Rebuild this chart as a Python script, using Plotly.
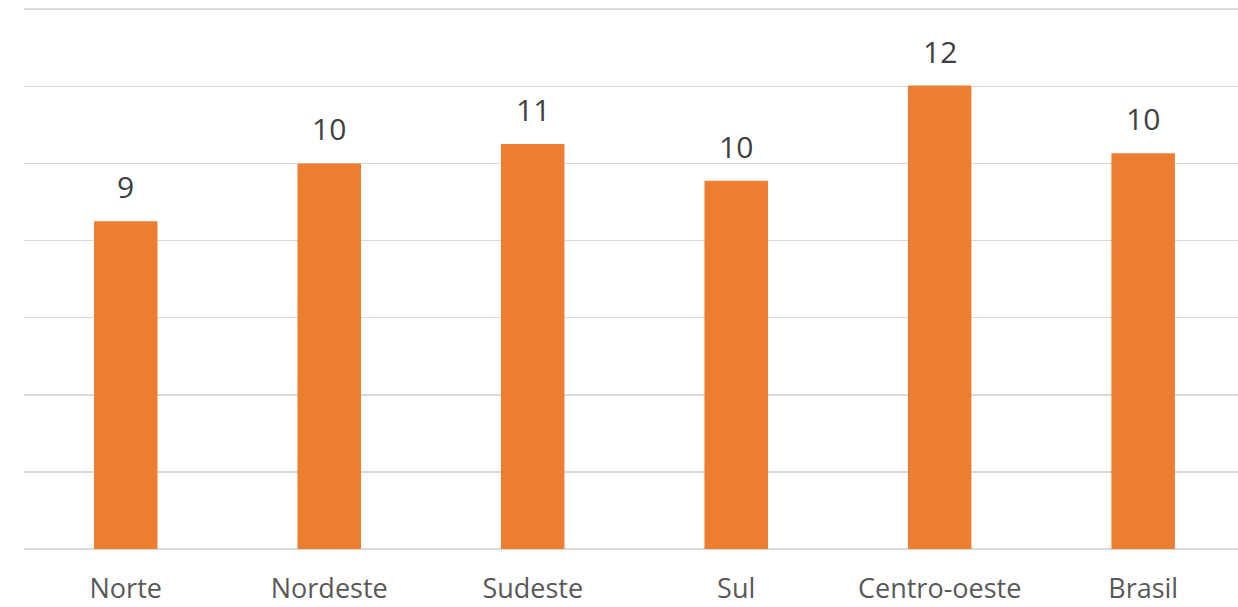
import plotly.graph_objects as go

categories = ["Norte", "Nordeste", "Sudeste", "Sul", "Centro-oeste", "Brasil"]
values = [8.5, 10.0, 10.5, 9.55, 12.02, 10.26]
labels = ["9", "10", "11", "10", "12", "10"]

fig = go.Figure()
fig.add_trace(go.Bar(
    x=categories, y=values,
    marker=dict(color="#ED7D31", line=dict(width=0)),
    hoverinfo="skip",
))

for c, v, t in zip(categories, values, labels):
    fig.add_annotation(
        x=c, y=v, text=t, showarrow=False, yanchor="bottom", yshift=12,
        font=dict(family="Open Sans", size=30, color="#404040"),
    )

fig.update_layout(
    width=1238, height=607,
    margin=dict(l=24, r=0, t=8, b=58),
    paper_bgcolor="white", plot_bgcolor="white",
    bargap=0.688,
    showlegend=False,
    xaxis=dict(
        range=[-0.5, 5.466],
        showgrid=False, zeroline=False, showline=False,
        ticks="", ticklabelstandoff=21, automargin=False,
        tickfont=dict(family="Open Sans", size=27, color="#595959"),
    ),
    yaxis=dict(
        range=[0, 14.03], dtick=2,
        showgrid=True, gridcolor="#D9D9D9", gridwidth=1.5,
        zeroline=True, zerolinecolor="#D9D9D9", zerolinewidth=1.5,
        showline=False, showticklabels=False, ticks="", automargin=False,
    ),
)

fig.write_html(
    "out.html",
    config={"displayModeBar": False, "staticPlot": True},
    post_script="document.body.style.margin='0';document.body.style.overflow='hidden';",
)
